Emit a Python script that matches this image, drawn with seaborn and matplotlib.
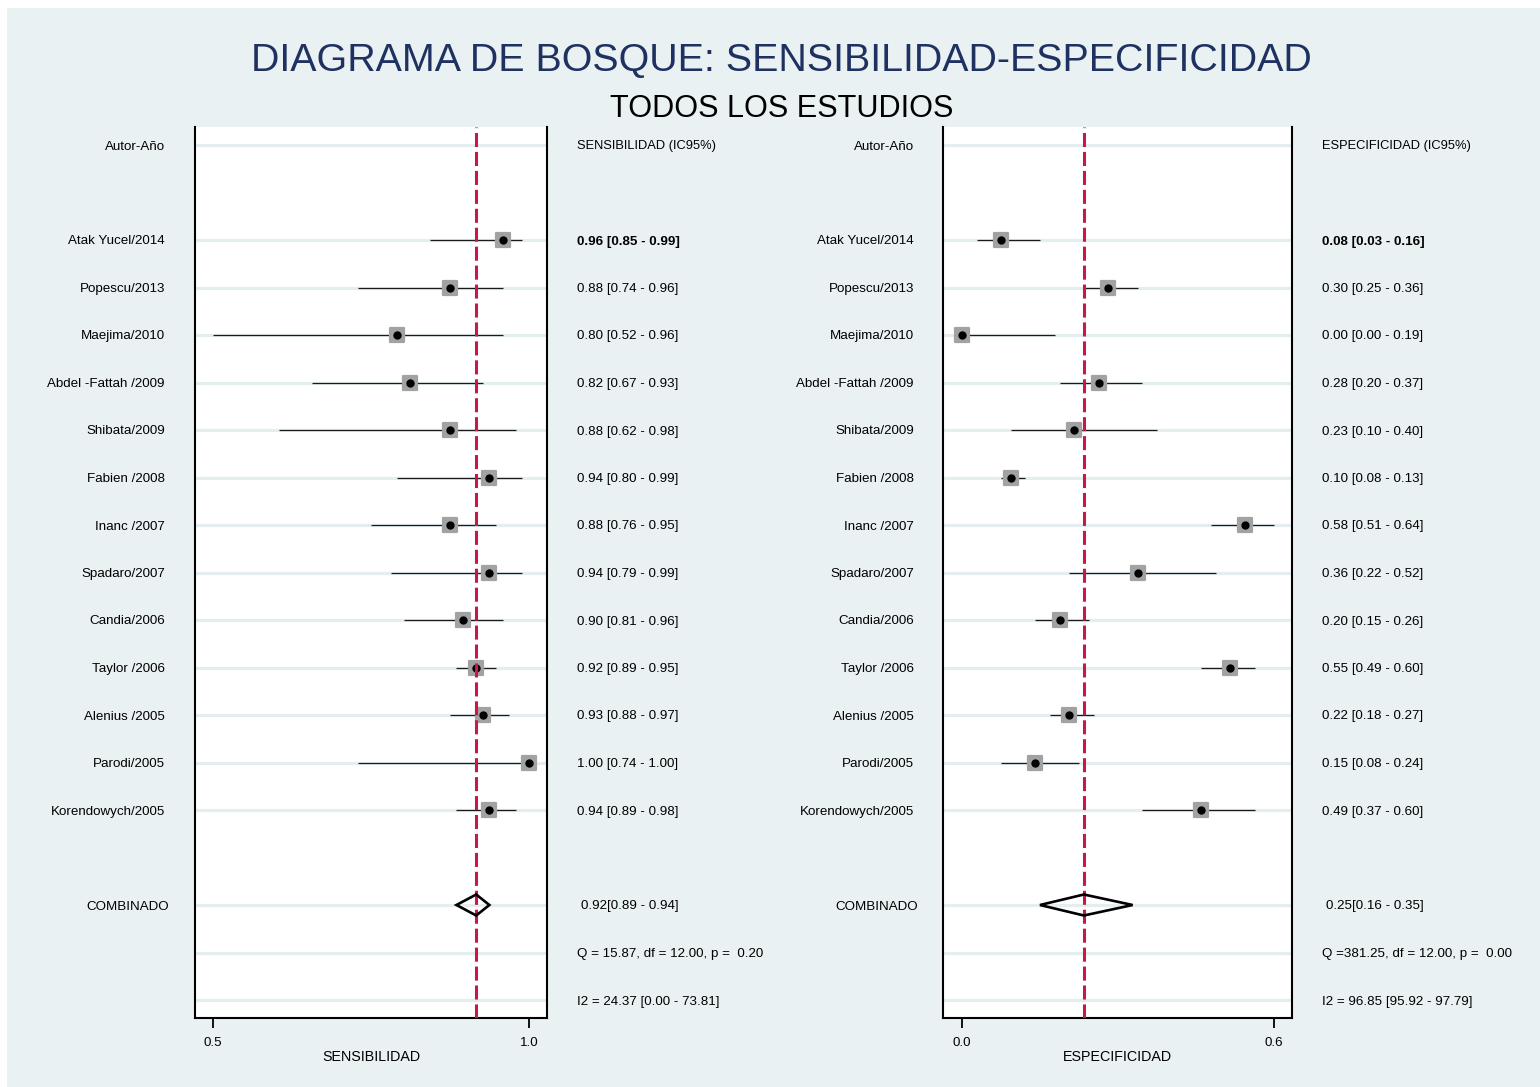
import numpy as np
import pandas as pd
import matplotlib
matplotlib.use("Agg")
import matplotlib.pyplot as plt
import matplotlib.transforms as mtransforms
from matplotlib.markers import MarkerStyle
from matplotlib.patches import Polygon, Rectangle
import seaborn as sns

# ---- data -------------------------------------------------------------
studies = ["Atak Yucel/2014", "Popescu/2013", "Maejima/2010", "Abdel -Fattah /2009",
           "Shibata/2009", "Fabien /2008", "Inanc /2007", "Spadaro/2007",
           "Candia/2006", "Taylor /2006", "Alenius /2005", "Parodi/2005",
           "Korendowych/2005"]

sens_est = [0.96, 0.88, 0.80, 0.82, 0.88, 0.94, 0.88, 0.94, 0.90, 0.92, 0.93, 1.00, 0.94]
sens_lo = [0.85, 0.74, 0.52, 0.67, 0.62, 0.80, 0.76, 0.79, 0.81, 0.89, 0.88, 0.74, 0.89]
sens_hi = [0.99, 0.96, 0.96, 0.93, 0.98, 0.99, 0.95, 0.99, 0.96, 0.95, 0.97, 1.00, 0.98]

spec_est = [0.08, 0.30, 0.00, 0.28, 0.23, 0.10, 0.58, 0.36, 0.20, 0.55, 0.22, 0.15, 0.49]
spec_lo = [0.03, 0.25, 0.00, 0.20, 0.10, 0.08, 0.51, 0.22, 0.15, 0.49, 0.18, 0.08, 0.37]
spec_hi = [0.16, 0.36, 0.19, 0.37, 0.40, 0.13, 0.64, 0.52, 0.26, 0.60, 0.27, 0.24, 0.60]

sens_pooled = [0.92, 0.89, 0.94]
spec_pooled = [0.25, 0.16, 0.35]

sens_q = "Q = 15.87, df = 12.00, p =  0.20"
sens_i2 = "I2 = 24.37 [0.00 - 73.81]"
spec_q = "Q =381.25, df = 12.00, p =  0.00"
spec_i2 = "I2 = 96.85 [95.92 - 97.79]"

# ---- style ------------------------------------------------------------
sns.set_theme(style="white")
plt.rcParams["font.family"] = ["Liberation Sans", "DejaVu Sans"]
plt.rcParams["text.color"] = "black"
plt.rcParams["axes.labelcolor"] = "black"
plt.rcParams["xtick.color"] = "black"
plt.rcParams["xtick.labelcolor"] = "black"

BG = "#E9F1F3"
GRID = "#E4EDF0"
RED = "#C8184A"
NAVY = "#1E3160"
FS = 9.6

W, H = 1540, 1087
fig = plt.figure(figsize=(W / 100, H / 100), dpi=100)
fig.patch.set_facecolor("white")
fig.patches.append(Rectangle((7 / W, 0), 1 - 7 / W, 1 - 8 / H,
                             transform=fig.transFigure, facecolor=BG,
                             edgecolor="none", zorder=-10))

ROW0 = 145.0
ROWH = 47.5
ax_top, ax_bot = 127, 1018


def make_axes(x0, x1):
    return fig.add_axes([x0 / W, 1 - ax_bot / H, (x1 - x0) / W, (ax_bot - ax_top) / H])


study_rows = np.arange(2, 2 + len(studies))
pool_row = study_rows[-1] + 2
q_row, i2_row = pool_row + 1, pool_row + 2
VA = "center_baseline"


def panel(ax, est, lo, hi, pooled, q_txt, i2_txt, head, xlabel, xlim, lab_x, comb_x, val_x):
    ax.set_facecolor("white")
    ax.set_xlim(*xlim)
    ax.set_ylim((ax_bot - ROW0) / ROWH, (ax_top - ROW0) / ROWH)

    for r in [0, *study_rows, pool_row, q_row, i2_row]:
        ax.axhline(r, color=GRID, lw=2.3, zorder=0)

    # confidence intervals
    ax.hlines(study_rows, lo, hi, color="#1a1a1a", lw=0.9, zorder=2)

    df = pd.DataFrame({"est": est, "row": study_rows})
    sq = MarkerStyle("s", joinstyle="round")
    sns.scatterplot(data=df, x="est", y="row", marker=sq, s=100, color="#A2A2A2",
                    edgecolor="#A2A2A2", linewidth=1.6, ax=ax, zorder=3, legend=False)
    sns.scatterplot(data=df, x="est", y="row", marker="o", s=36, color="black",
                    edgecolor="black", linewidth=0, ax=ax, zorder=4, legend=False)

    # pooled estimate
    p, plo, phi = pooled
    ax.axvline(p, color=RED, lw=2.2, linestyle=(0, (4.6, 1.6)), zorder=5)
    h = 10.5 / ROWH
    dia = Polygon([(plo, pool_row), (p, pool_row - h), (phi, pool_row), (p, pool_row + h)],
                  closed=True, facecolor="none", edgecolor="black", lw=1.9, zorder=6,
                  joinstyle="miter")
    ax.add_patch(dia)

    # axes frame
    for s in ["left", "right", "bottom"]:
        ax.spines[s].set_visible(True)
        ax.spines[s].set_color("black")
        ax.spines[s].set_linewidth(1.5)
    ax.spines["top"].set_visible(False)

    tick_pos = [min(lo), max(hi)]
    ax.set_xticks(tick_pos)
    ax.set_xticklabels([f"{v:.1f}" for v in tick_pos], fontsize=FS)
    ax.tick_params(axis="x", direction="out", length=7.5, width=1.3, color="black",
                   pad=6, bottom=True)
    ax.set_yticks([])
    ax.set_xlabel(xlabel, fontsize=10.3, labelpad=1)
    ax.set_ylabel("")

    tr = mtransforms.blended_transform_factory(ax.transAxes, ax.transData)
    ax.text(lab_x, 0, "Autor-Año", ha="right", va=VA, fontsize=FS, transform=tr)
    for r, name in zip(study_rows, studies):
        ax.text(lab_x, r, name, ha="right", va=VA, fontsize=FS, transform=tr)
    ax.text(comb_x, pool_row, "COMBINADO", ha="right", va=VA, fontsize=FS, transform=tr)

    ax.text(val_x, 0, head, ha="left", va=VA, fontsize=FS - 0.3, transform=tr)
    for i, (r, e, l, u) in enumerate(zip(study_rows, est, lo, hi)):
        ax.text(val_x, r, f"{e:.2f} [{l:.2f} - {u:.2f}]", ha="left", va=VA,
                fontsize=FS, transform=tr, fontweight="bold" if i == 0 else "normal")
    ax.text(val_x + 0.011, pool_row, f"{p:.2f}[{plo:.2f} - {phi:.2f}]", ha="left",
            va=VA, fontsize=FS, transform=tr)
    ax.text(val_x, q_row, q_txt, ha="left", va=VA, fontsize=FS, transform=tr)
    ax.text(val_x, i2_row, i2_txt, ha="left", va=VA, fontsize=FS, transform=tr)


# left panel: sensitivity
axL = make_axes(195, 547)
sx = lambda px: 0.52 + (px - 213) / 658.0
panel(axL, sens_est, sens_lo, sens_hi, sens_pooled, sens_q, sens_i2,
      "SENSIBILIDAD (IC95%)", "SENSIBILIDAD", (sx(195), sx(547)),
      (165 - 195) / 352, (169 - 195) / 352, (577 - 195) / 352)

# right panel: specificity
axR = make_axes(943, 1292)
px = lambda p: 0.0 + (p - 962) / 487.5
panel(axR, spec_est, spec_lo, spec_hi, spec_pooled, spec_q, spec_i2,
      "ESPECIFICIDAD (IC95%)", "ESPECIFICIDAD", (px(943), px(1292)),
      (914 - 943) / 349, (918 - 943) / 349, (1322 - 943) / 349)

fig.text(781.5 / W, 1 - 57 / H, "DIAGRAMA DE BOSQUE: SENSIBILIDAD-ESPECIFICIDAD",
         ha="center", va="center_baseline", fontsize=28.4, color=NAVY)
fig.text(781.5 / W, 1 - 105.5 / H, "TODOS LOS ESTUDIOS", ha="center",
         va="center_baseline", fontsize=22.1, color="black")

fig.savefig("out.png", dpi=100, facecolor=fig.get_facecolor())
